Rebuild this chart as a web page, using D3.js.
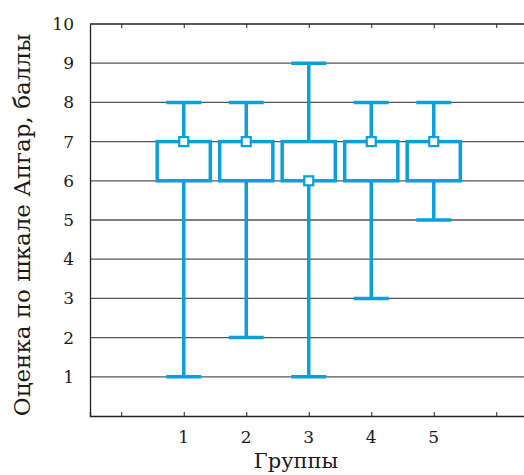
<!DOCTYPE html>
<html>
<head>
<meta charset="utf-8">
<script src="https://cdn.jsdelivr.net/npm/d3@7"></script>
<style>
  body { margin: 0; background: #fff; }
  svg { display: block; }
  text { font-family: "DejaVu Serif", "Liberation Serif", serif; fill: #1a1a1a; }
</style>
</head>
<body>
<svg id="chart" width="524" height="475"></svg>
<script>
// values
const groups = ["1", "2", "3", "4", "5"];
const minVals = [1, 2, 1, 3, 5];
const q1Vals = [6, 6, 6, 6, 6];
const medianVals = [7, 7, 6, 7, 7];
const q3Vals = [7, 7, 7, 7, 7];
const maxVals = [8, 8, 9, 8, 8];
const yTicks = [1, 2, 3, 4, 5, 6, 7, 8, 9, 10];
const xTickPositions = [0, 1, 2, 3, 4, 5, 6];

const blue = "#0ba0dc";
const svg = d3.select("#chart");
const margin = { left: 90, top: 24, bottom: 59 };
const height = 475;

const x = d3.scaleLinear().domain([-0.5, 6.7]).range([margin.left, 540]);
const y = d3.scaleLinear().domain([0, 10]).range([height - margin.bottom, margin.top]);

const boxes = groups.map((g, i) => ({
  label: g,
  pos: i + 1,
  min: minVals[i],
  q1: q1Vals[i],
  median: medianVals[i],
  q3: q3Vals[i],
  max: maxVals[i],
}));

// horizontal grid lines
svg.append("g")
  .selectAll("line")
  .data(yTicks.filter((d) => d < 10))
  .enter()
  .append("line")
  .attr("x1", margin.left)
  .attr("x2", 524)
  .attr("y1", (d) => y(d))
  .attr("y2", (d) => y(d))
  .attr("stroke", "#555")
  .attr("stroke-width", 1.3);

// top frame line
svg.append("line")
  .attr("x1", margin.left).attr("x2", 524)
  .attr("y1", y(10)).attr("y2", y(10))
  .attr("stroke", "#222").attr("stroke-width", 1.3);

const xAxisBottom = svg.append("g")
  .attr("transform", `translate(0,${y(0)})`)
  .call(d3.axisBottom(x).tickValues(xTickPositions).tickSize(-4).tickFormat(""));
xAxisBottom.select(".domain").attr("stroke", "#222").attr("stroke-width", 1.3);
xAxisBottom.selectAll(".tick line").attr("stroke", "#222");

const xAxisTop = svg.append("g")
  .attr("transform", `translate(0,${y(10)})`)
  .call(d3.axisTop(x).tickValues(xTickPositions).tickSize(-4).tickFormat(""));
xAxisTop.select(".domain").remove();
xAxisTop.selectAll(".tick line").attr("stroke", "#222");

// group labels
svg.append("g")
  .selectAll("text")
  .data(boxes)
  .enter()
  .append("text")
  .attr("x", (d) => x(d.pos))
  .attr("y", y(0) + 27)
  .attr("text-anchor", "middle")
  .attr("font-size", 17)
  .text((d) => d.label);

const yAxis = svg.append("g")
  .attr("transform", `translate(${margin.left},0)`)
  .call(d3.axisLeft(y).tickValues(yTicks).tickSize(0).tickPadding(16));
yAxis.select(".domain").attr("stroke", "#222").attr("stroke-width", 1.3);
yAxis.selectAll("text")
  .attr("font-size", 17)
  .attr("font-family", "DejaVu Serif")
  .attr("fill", "#1a1a1a");

// boxes
const boxW = 0.85;
const capW = 0.56;
const sw = 3.5;

const bg = svg.append("g")
  .selectAll("g")
  .data(boxes)
  .enter()
  .append("g");

// lower whisker
bg.append("line")
  .attr("x1", (d) => x(d.pos)).attr("x2", (d) => x(d.pos))
  .attr("y1", (d) => y(d.q1)).attr("y2", (d) => y(d.min))
  .attr("stroke", blue).attr("stroke-width", sw);
// upper whisker
bg.append("line")
  .attr("x1", (d) => x(d.pos)).attr("x2", (d) => x(d.pos))
  .attr("y1", (d) => y(d.q3)).attr("y2", (d) => y(d.max))
  .attr("stroke", blue).attr("stroke-width", sw);
// caps
bg.append("line")
  .attr("x1", (d) => x(d.pos - capW / 2)).attr("x2", (d) => x(d.pos + capW / 2))
  .attr("y1", (d) => y(d.min)).attr("y2", (d) => y(d.min))
  .attr("stroke", blue).attr("stroke-width", sw);
bg.append("line")
  .attr("x1", (d) => x(d.pos - capW / 2)).attr("x2", (d) => x(d.pos + capW / 2))
  .attr("y1", (d) => y(d.max)).attr("y2", (d) => y(d.max))
  .attr("stroke", blue).attr("stroke-width", sw);
// box
bg.append("rect")
  .attr("x", (d) => x(d.pos - boxW / 2))
  .attr("width", (d) => x(d.pos + boxW / 2) - x(d.pos - boxW / 2))
  .attr("y", (d) => y(d.q3))
  .attr("height", (d) => y(d.q1) - y(d.q3))
  .attr("fill", "none")
  .attr("stroke", blue).attr("stroke-width", sw);
// median marker
bg.append("rect")
  .attr("x", (d) => x(d.pos) - 4.5)
  .attr("y", (d) => y(d.median) - 4.5)
  .attr("width", 9).attr("height", 9)
  .attr("fill", "#fff")
  .attr("stroke", blue).attr("stroke-width", 2.2);

// axis titles
svg.append("text")
  .attr("transform", "translate(30,225) rotate(-90)")
  .attr("text-anchor", "middle")
  .attr("font-size", 23)
  .text("Оценка по шкале Апгар, баллы");

svg.append("text")
  .attr("x", 296)
  .attr("y", 468)
  .attr("text-anchor", "middle")
  .attr("font-size", 21)
  .text("Группы");
</script>
</body>
</html>
